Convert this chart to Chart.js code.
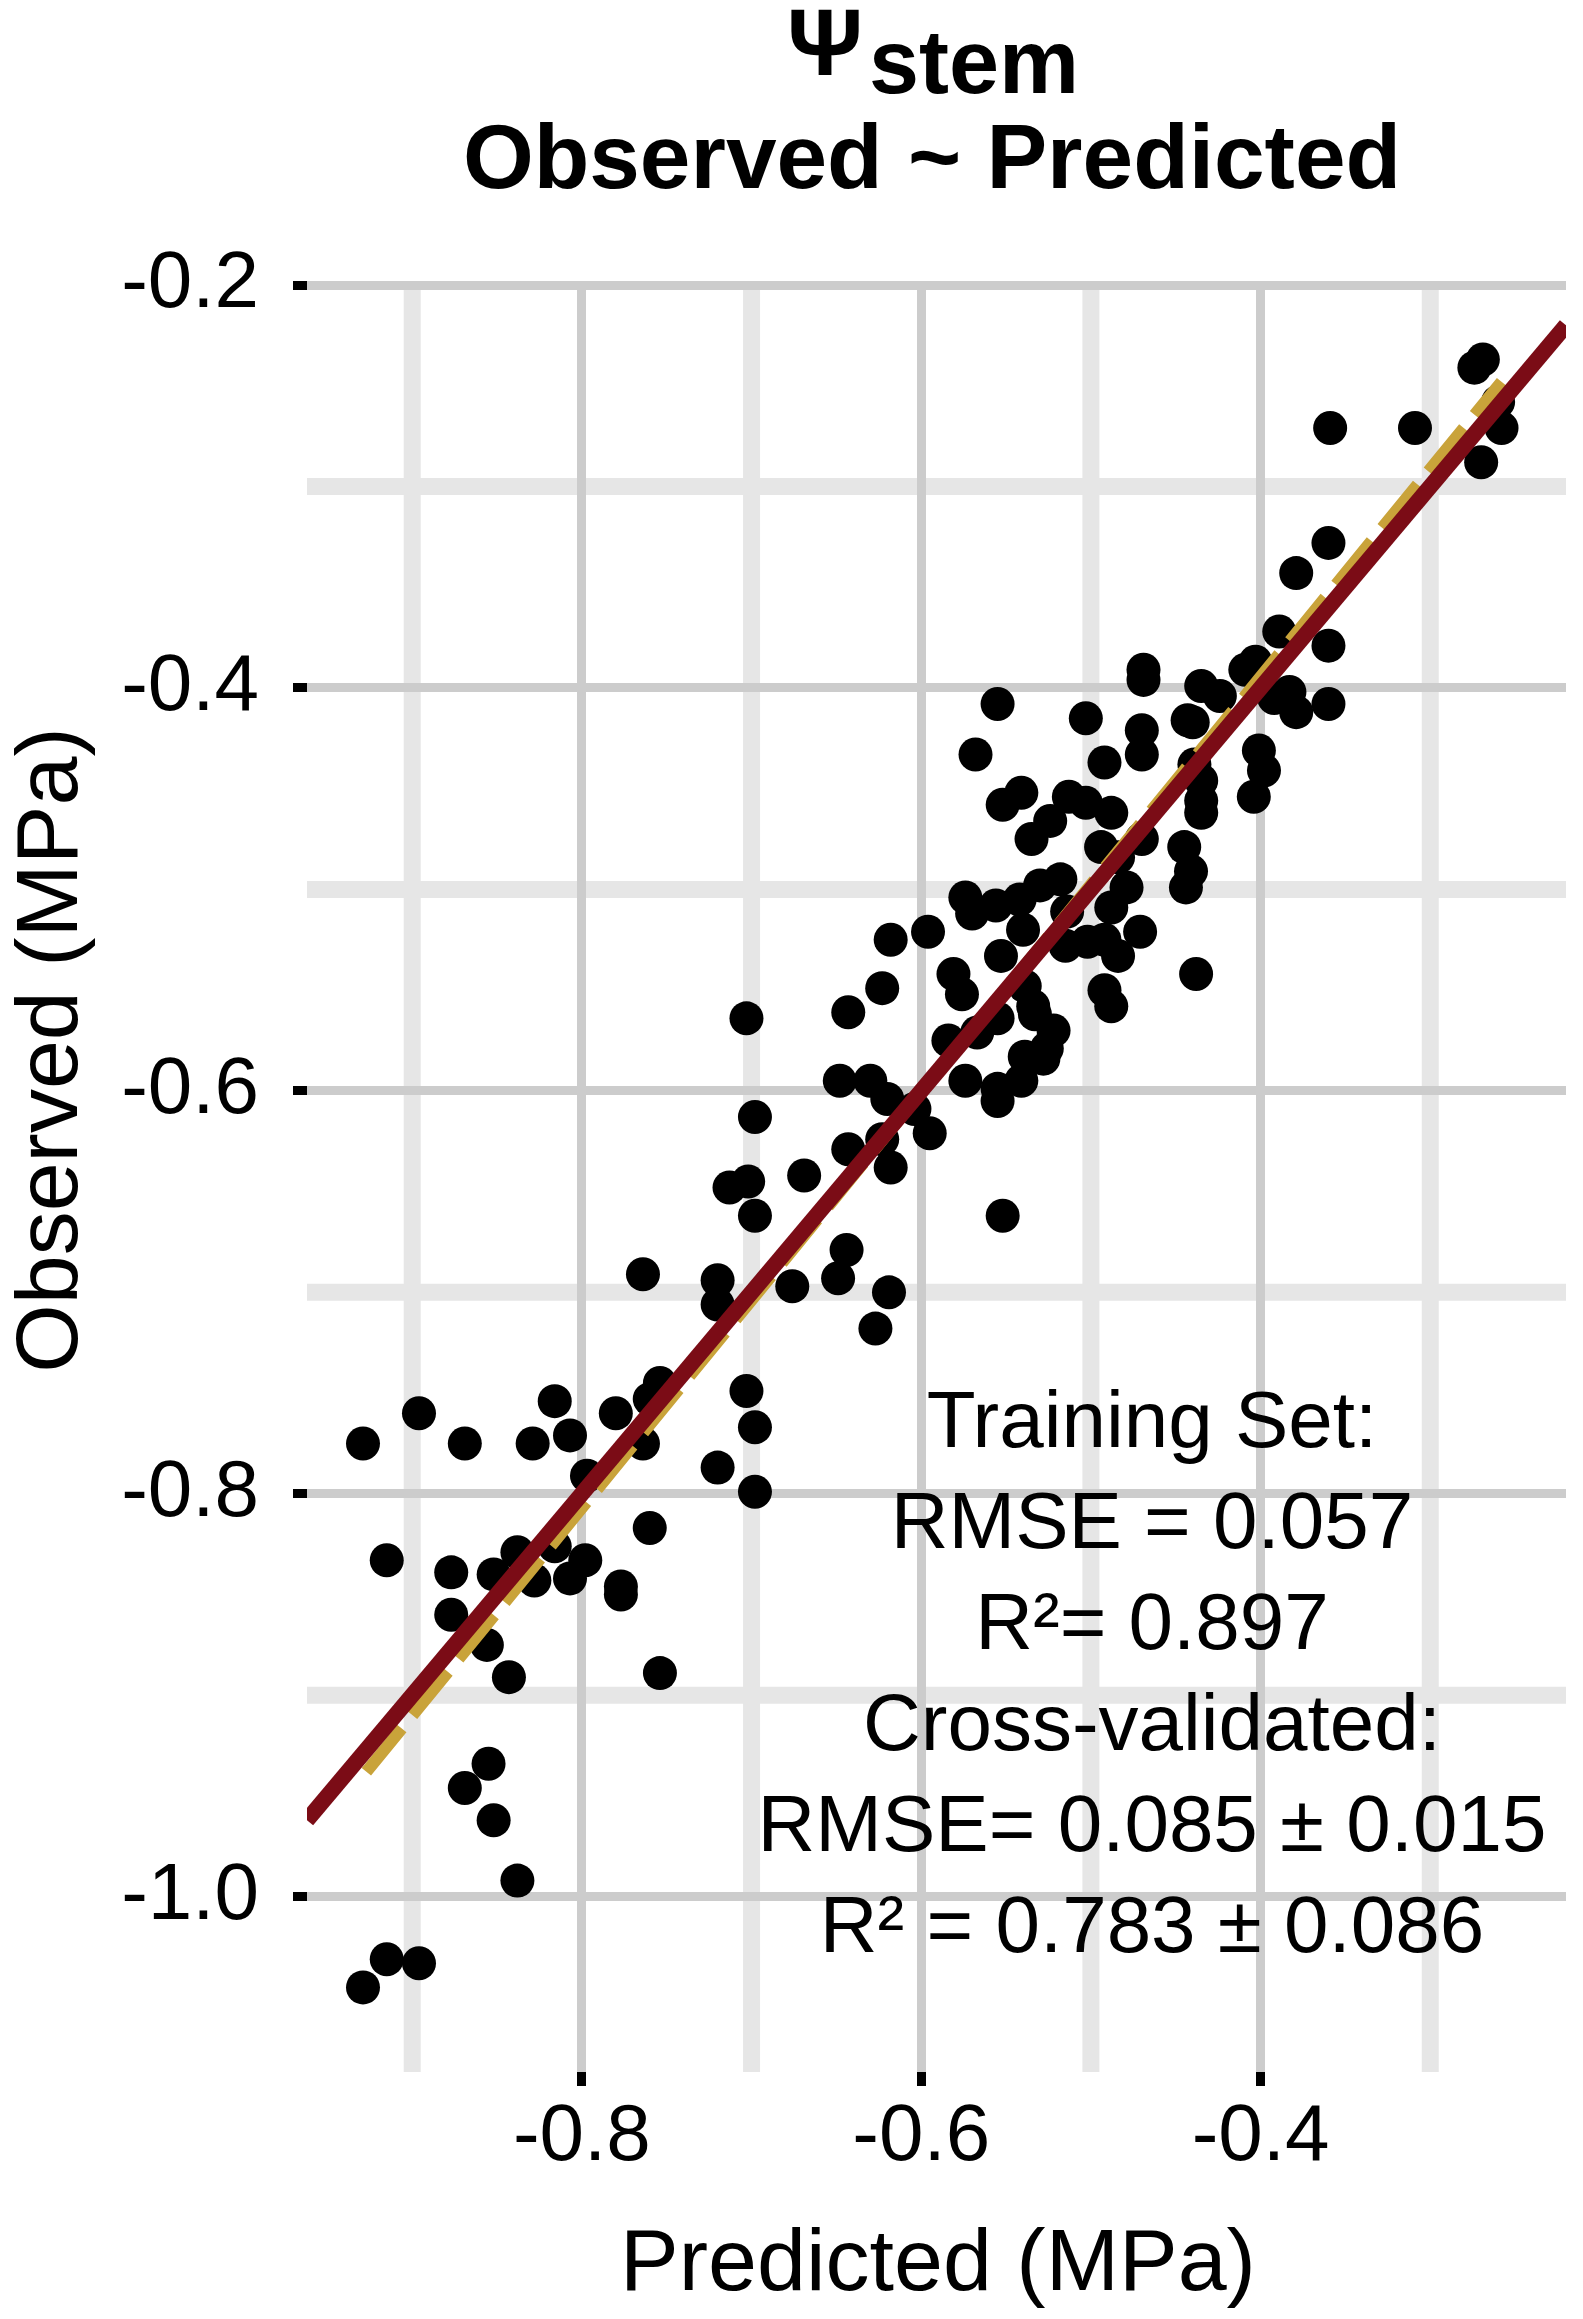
<!DOCTYPE html>
<html>
<head>
<meta charset="utf-8">
<title>Ψstem Observed ~ Predicted</title>
<script src="https://cdn.jsdelivr.net/npm/chart.js@4.4.1/dist/chart.umd.min.js"></script>
<style>
    html, body { margin: 0; padding: 0; background: #ffffff; }
    #wrap { width: 1583px; height: 2319px; }
</style>
</head>
<body>
<div id="wrap"><canvas id="obsPredChart" width="1583" height="2319"></canvas></div>
<script>
// Predicted (x) vs observed (y) stem water potential, MPa
const predicted = [
    -0.269, -0.274, -0.260, -0.258, -0.270, -0.359, -0.309, -0.360, -0.379, -0.389,
    -0.360, -0.409, -0.403, -0.383, -0.379, -0.360, -0.392, -0.469, -0.469, -0.435,
    -0.424, -0.443, -0.440, -0.470, -0.470, -0.492, -0.439, -0.401, -0.398, -0.404,
    -0.555, -0.503, -0.568, -0.435, -0.435, -0.435, -0.541, -0.552, -0.513, -0.503,
    -0.488, -0.524, -0.535, -0.494, -0.470, -0.484, -0.445, -0.441, -0.444, -0.518,
    -0.530, -0.574, -0.570, -0.556, -0.542, -0.479, -0.488, -0.471, -0.514, -0.540,
    -0.515, -0.502, -0.492, -0.484, -0.553, -0.438, -0.618, -0.596, -0.581, -0.576,
    -0.623, -0.643, -0.539, -0.534, -0.533, -0.555, -0.522, -0.584, -0.567, -0.492,
    -0.488, -0.539, -0.528, -0.526, -0.541, -0.555, -0.555, -0.574, -0.648, -0.630,
    -0.620, -0.604, -0.595, -0.623, -0.643, -0.703, -0.618, -0.552, -0.698, -0.713,
    -0.702, -0.698, -0.669, -0.644, -0.649, -0.676, -0.619, -0.627, -0.720, -0.720,
    -0.764, -0.754, -0.760, -0.780, -0.816, -0.807, -0.764, -0.703, -0.698, -0.720,
    -0.698, -0.797, -0.929, -0.896, -0.869, -0.829, -0.915, -0.877, -0.877, -0.852,
    -0.838, -0.828, -0.816, -0.798, -0.807, -0.777, -0.777, -0.760, -0.754, -0.856,
    -0.843, -0.855, -0.869, -0.852, -0.838, -0.915, -0.896, -0.929
];
const observed = [
    -0.237, -0.241, -0.258, -0.271, -0.288, -0.271, -0.271, -0.328, -0.343, -0.372,
    -0.379, -0.391, -0.387, -0.402, -0.412, -0.408, -0.405, -0.391, -0.396, -0.399,
    -0.404, -0.416, -0.417, -0.421, -0.433, -0.437, -0.438, -0.431, -0.441, -0.454,
    -0.408, -0.415, -0.433, -0.446, -0.456, -0.462, -0.452, -0.458, -0.454, -0.457,
    -0.462, -0.466, -0.475, -0.479, -0.475, -0.484, -0.479, -0.491, -0.499, -0.495,
    -0.498, -0.504, -0.512, -0.508, -0.505, -0.499, -0.509, -0.521, -0.511, -0.520,
    -0.528, -0.526, -0.525, -0.533, -0.533, -0.542, -0.525, -0.521, -0.542, -0.552,
    -0.549, -0.561, -0.548, -0.558, -0.562, -0.564, -0.570, -0.575, -0.571, -0.550,
    -0.558, -0.583, -0.584, -0.579, -0.595, -0.599, -0.605, -0.595, -0.595, -0.595,
    -0.604, -0.609, -0.621, -0.624, -0.629, -0.564, -0.638, -0.662, -0.613, -0.648,
    -0.645, -0.662, -0.642, -0.679, -0.693, -0.697, -0.700, -0.718, -0.694, -0.706,
    -0.691, -0.745, -0.753, -0.760, -0.754, -0.771, -0.775, -0.749, -0.767, -0.787,
    -0.799, -0.791, -0.775, -0.760, -0.775, -0.775, -0.833, -0.839, -0.860, -0.840,
    -0.829, -0.843, -0.826, -0.833, -0.842, -0.846, -0.850, -0.817, -0.889, -0.875,
    -0.891, -0.934, -0.946, -0.962, -0.992, -1.031, -1.033, -1.045
];

// 1:1 line across the panel, and the fitted regression over the data range
const identityX = [-0.962, -0.220];
const identityY = [-0.962, -0.220];
const fitX = [-0.927, -0.258];
const fitY = [-0.938, -0.248];

// axes
const xLimits = [-0.962, -0.220];
const yLimits = [-1.087, -0.198];
const xGrid = [-0.9, -0.8, -0.7, -0.6, -0.5, -0.4, -0.3];
const xTickLabels = ['', '-0.8', '', '-0.6', '', '-0.4', ''];
const yGrid = [-1.0, -0.9, -0.8, -0.7, -0.6, -0.5, -0.4, -0.3, -0.2];
const yTickLabels = ['-1.0', '', '-0.8', '', '-0.6', '', '-0.4', '', '-0.2'];

const titleSymbol = 'Ψ';
const titleSubscript = 'stem';
const titleLine2 = 'Observed ~ Predicted';
const xTitle = 'Predicted (MPa)';
const yTitle = 'Observed (MPa)';
const statsLines = [
    'Training Set:',
    'RMSE = 0.057',
    'R²= 0.897',
    'Cross-validated:',
    'RMSE= 0.085 ± 0.015',
    'R² = 0.783 ± 0.086'
];

const FONT = "'Liberation Sans', Arial, Helvetica, sans-serif";
const MINOR_COLOR = '#e6e6e6';
const MINOR_WIDTH = 17;

const toPoints = (xs, ys) => xs.map((x, i) => ({ x: x, y: ys[i] }));

// Chart.js draws only the major (labelled) lines; minor ones go underneath
function gridStyle(labels) {
    const major = ctx => labels[ctx.index] !== '';
    return {
        color: ctx => major(ctx) ? '#cccccc' : 'rgba(0,0,0,0)',
        lineWidth: ctx => major(ctx) ? 9 : 0,
        tickColor: ctx => major(ctx) ? '#000000' : 'rgba(0,0,0,0)',
        tickWidth: ctx => major(ctx) ? 9 : 0,
        tickLength: 14,
        drawTicks: true
    };
}

// minor grid lines drawn first, so majors cross on top (as in ggplot)
const minorGrid = {
    id: 'minorGrid',
    beforeDraw(chart) {
        const { ctx, chartArea: a, scales } = chart;
        ctx.save();
        ctx.strokeStyle = MINOR_COLOR;
        ctx.lineWidth = MINOR_WIDTH;
        ctx.lineCap = 'butt';
        xGrid.forEach((v, i) => {
            if (xTickLabels[i] !== '') return;
            const px = scales.x.getPixelForValue(v);
            ctx.beginPath();
            ctx.moveTo(px, a.top);
            ctx.lineTo(px, a.bottom);
            ctx.stroke();
        });
        yGrid.forEach((v, i) => {
            if (yTickLabels[i] !== '') return;
            const py = scales.y.getPixelForValue(v);
            ctx.beginPath();
            ctx.moveTo(a.left, py);
            ctx.lineTo(a.right, py);
            ctx.stroke();
        });
        ctx.restore();
    }
};

const textLayer = {
    id: 'textLayer',
    afterDraw(chart) {
        const ctx = chart.ctx;
        ctx.save();
        ctx.fillStyle = '#000000';
        ctx.textBaseline = 'alphabetic';

        // title, first line: Psi with subscript
        ctx.font = `bold 94px ${FONT}`;
        const psiW = ctx.measureText(titleSymbol).width;
        ctx.font = `bold 90px ${FONT}`;
        const subW = ctx.measureText(titleSubscript).width;
        const startX = 933 - (psiW + 6 + subW) / 2;
        ctx.textAlign = 'left';
        ctx.font = `bold 94px ${FONT}`;
        ctx.fillText(titleSymbol, startX, 75);
        ctx.font = `bold 90px ${FONT}`;
        ctx.fillText(titleSubscript, startX + psiW + 6, 93);

        // title, second line
        ctx.textAlign = 'center';
        ctx.font = `bold 91px ${FONT}`;
        ctx.fillText(titleLine2, 932, 188);

        // axis titles
        ctx.font = `88px ${FONT}`;
        ctx.fillText(xTitle, 938, 2290);
        ctx.save();
        ctx.translate(77, 1050);
        ctx.rotate(-Math.PI / 2);
        ctx.fillText(yTitle, 0, 0);
        ctx.restore();

        // model statistics
        ctx.font = `80px ${FONT}`;
        statsLines.forEach((line, i) => {
            ctx.fillText(line, 1152, 1447 + i * 101);
        });
        ctx.restore();
    }
};

const chart = new Chart(document.getElementById('obsPredChart').getContext('2d'), {
    type: 'scatter',
    data: {
        datasets: [
            {
                label: 'Observations',
                data: toPoints(predicted, observed),
                backgroundColor: '#000000',
                borderWidth: 0,
                pointRadius: 17,
                pointHoverRadius: 17,
                order: 3
            },
            {
                label: 'Linear fit',
                data: toPoints(fitX, fitY),
                showLine: true,
                borderColor: '#c9a33a',
                borderWidth: 12,
                borderDash: [56, 17],
                borderCapStyle: 'butt',
                pointRadius: 0,
                order: 2
            },
            {
                label: '1:1',
                data: toPoints(identityX, identityY),
                showLine: true,
                borderColor: '#7b0c16',
                borderWidth: 16,
                borderCapStyle: 'butt',
                pointRadius: 0,
                order: 1
            }
        ]
    },
    options: {
        responsive: false,
        animation: false,
        devicePixelRatio: 1,
        layout: {
            padding: { top: 281, right: 7, left: 0, bottom: 0 }
        },
        plugins: {
            legend: { display: false },
            tooltip: { enabled: false },
            title: { display: false }
        },
        scales: {
            x: {
                type: 'linear',
                min: xLimits[0],
                max: xLimits[1],
                afterBuildTicks: scale => { scale.ticks = xGrid.map(v => ({ value: v })); },
                afterFit: scale => { scale.height = 247; },
                border: { display: false },
                grid: gridStyle(xTickLabels),
                ticks: {
                    autoSkip: false,
                    maxRotation: 0,
                    padding: 4,
                    color: '#000000',
                    font: { family: FONT, size: 80 },
                    callback: (value, index) => xTickLabels[index]
                }
            },
            y: {
                type: 'linear',
                min: yLimits[0],
                max: yLimits[1],
                afterBuildTicks: scale => { scale.ticks = yGrid.map(v => ({ value: v })); },
                afterFit: scale => { scale.width = 307; },
                border: { display: false },
                grid: gridStyle(yTickLabels),
                ticks: {
                    autoSkip: false,
                    padding: 34,
                    color: '#000000',
                    font: { family: FONT, size: 80 },
                    callback: (value, index) => yTickLabels[index]
                }
            }
        }
    },
    plugins: [minorGrid, textLayer]
});
</script>
</body>
</html>
